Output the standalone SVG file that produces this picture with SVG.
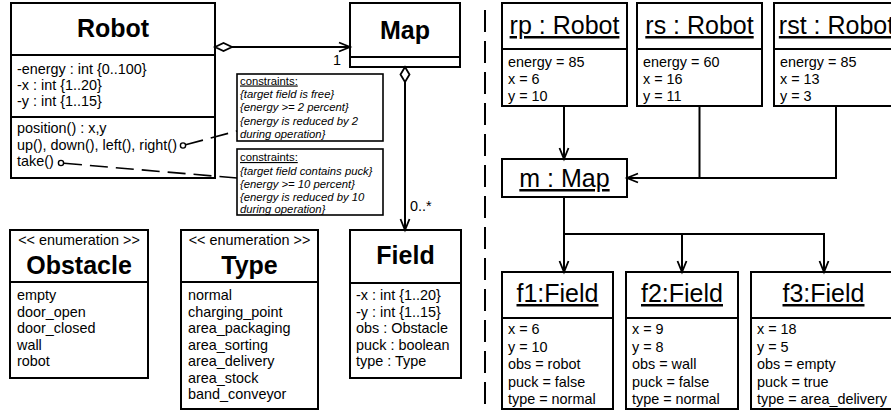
<svg xmlns="http://www.w3.org/2000/svg" width="891" height="413" viewBox="0 0 891 413">
  <defs>
    <style>
      .box { fill: #fff; stroke: #000; stroke-width: 2; }
      .sep { stroke: #000; stroke-width: 2; }
      .note { fill: #fff; stroke: #000; stroke-width: 1.6; }
      .t { font-family: "Liberation Sans", Arial, sans-serif; font-size: 14.4px; fill: #000; }
      .title { font-family: "Liberation Sans", Arial, sans-serif; font-size: 25px; font-weight: bold; text-anchor: middle; fill: #000; }
      .otitle { font-family: "Liberation Sans", Arial, sans-serif; font-size: 25px; text-anchor: middle; text-decoration: underline; fill: #000; }
      .stereo { text-anchor: middle; }
      .nt { font-family: "Liberation Sans", Arial, sans-serif; font-size: 11.3px; font-style: italic; fill: #000; }
      .nh { font-family: "Liberation Sans", Arial, sans-serif; font-size: 11.3px; text-decoration: underline; fill: #000; }
      .line { fill: none; stroke: #000; stroke-width: 2; }
      .dash { fill: none; stroke: #000; stroke-width: 1.6; stroke-dasharray: 18 8; }
      .diamond { fill: #fff; stroke: #000; stroke-width: 1.8; }
      .port { fill: #fff; stroke: #000; stroke-width: 1.4; }
      .divider { fill: none; stroke: #000; stroke-width: 2; stroke-dasharray: 22 9; }
    </style>
    <marker id="open" markerWidth="14" markerHeight="12" refX="11" refY="5" orient="auto" markerUnits="userSpaceOnUse" overflow="visible">
      <path d="M0,0.5 L11,5 L0,9.5" fill="none" stroke="#000" stroke-width="1.8"/>
    </marker>
  </defs>

  <!-- ===== class diagram ===== -->
  <g id="Robot">
    <rect class="box" x="11" y="3" width="204" height="175"/>
    <line class="sep" x1="11" y1="55" x2="215" y2="55"/>
    <line class="sep" x1="11" y1="117" x2="215" y2="117"/>
    <text class="title" x="113" y="37">Robot</text>
    <text class="t" x="17" y="74">-energy : int {0..100}</text>
    <text class="t" x="17" y="90">-x : int {1..20}</text>
    <text class="t" x="17" y="106">-y : int {1..15}</text>
    <text class="t" x="17" y="133">position() : x,y</text>
    <text class="t" x="17" y="149.5">up(), down(), left(), right()</text>
    <text class="t" x="17" y="166">take()</text>
    <circle class="port" cx="183" cy="145.5" r="2.6"/>
    <circle class="port" cx="61" cy="163" r="2.6"/>
  </g>

  <g id="Map">
    <rect class="box" x="350" y="3" width="110" height="64"/>
    <line class="sep" x1="350" y1="57" x2="460" y2="57"/>
    <text class="title" x="405" y="39">Map</text>
  </g>

  <g id="Field">
    <rect class="box" x="350" y="230" width="111" height="148"/>
    <line class="sep" x1="350" y1="283" x2="461" y2="283"/>
    <text class="title" x="405.5" y="264">Field</text>
    <text class="t" x="356" y="300">-x : int {1..20}</text>
    <text class="t" x="356" y="316.5">-y : int {1..15}</text>
    <text class="t" x="356" y="333">obs : Obstacle</text>
    <text class="t" x="356" y="349.5">puck : boolean</text>
    <text class="t" x="356" y="366">type : Type</text>
  </g>

  <g id="Obstacle">
    <rect class="box" x="10" y="230" width="138" height="148"/>
    <line class="sep" x1="10" y1="282" x2="148" y2="282"/>
    <text class="t stereo" x="79" y="245">&lt;&lt; enumeration &gt;&gt;</text>
    <text class="title" x="79" y="274">Obstacle</text>
    <text class="t" x="17" y="300">empty</text>
    <text class="t" x="17" y="316.5">door_open</text>
    <text class="t" x="17" y="333">door_closed</text>
    <text class="t" x="17" y="349.5">wall</text>
    <text class="t" x="17" y="366">robot</text>
  </g>

  <g id="Type">
    <rect class="box" x="181" y="230" width="137" height="179"/>
    <line class="sep" x1="181" y1="282" x2="318" y2="282"/>
    <text class="t stereo" x="249.5" y="245">&lt;&lt; enumeration &gt;&gt;</text>
    <text class="title" x="249.5" y="274">Type</text>
    <text class="t" x="188" y="300">normal</text>
    <text class="t" x="188" y="316.5">charging_point</text>
    <text class="t" x="188" y="333">area_packaging</text>
    <text class="t" x="188" y="349.5">area_sorting</text>
    <text class="t" x="188" y="366">area_delivery</text>
    <text class="t" x="188" y="382.5">area_stock</text>
    <text class="t" x="188" y="399">band_conveyor</text>
  </g>

  <g id="note-move">
    <rect class="note" x="237" y="74" width="146" height="67"/>
    <text class="nh" x="240" y="84.5">constraints:</text>
    <text class="nt" x="240" y="98">{target field is free}</text>
    <text class="nt" x="240" y="111">{energy &gt;= 2 percent}</text>
    <text class="nt" x="240" y="124.5">{energy is reduced by 2</text>
    <text class="nt" x="240" y="137.5">during operation}</text>
  </g>

  <g id="note-take">
    <rect class="note" x="237" y="149" width="146" height="66"/>
    <text class="nh" x="240" y="161">constraints:</text>
    <text class="nt" x="240" y="174.5">{target field contains puck}</text>
    <text class="nt" x="240" y="187.5">{energy &gt;= 10 percent}</text>
    <text class="nt" x="240" y="200.5">{energy is reduced by 10</text>
    <text class="nt" x="240" y="213">during operation}</text>
  </g>

  <g id="class-connectors">
    <!-- Robot aggregates Map -->
    <polygon class="diamond" points="215,47 223.5,43 232,47 223.5,51"/>
    <line class="line" x1="232" y1="47" x2="350" y2="47" marker-end="url(#open)"/>
    <text class="t" x="333" y="65">1</text>
    <!-- Map aggregates Field -->
    <polygon class="diamond" points="405,67 409.5,74.5 405,82 400.5,74.5"/>
    <line class="line" x1="405" y1="82" x2="405" y2="230" marker-end="url(#open)"/>
    <text class="t" x="410" y="211">0..*</text>
    <!-- constraint attachments -->
    <line class="dash" x1="185.6" y1="144.8" x2="237" y2="131"/>
    <line class="dash" x1="64" y1="163.3" x2="237" y2="178"/>
  </g>

  <!-- separator between class and object view -->
  <line class="divider" x1="485" y1="10" x2="485" y2="410"/>

  <!-- ===== object diagram ===== -->
  <g id="rp">
    <rect class="box" x="502" y="3" width="125" height="103"/>
    <line class="sep" x1="502" y1="49" x2="627" y2="49"/>
    <text class="otitle" x="564.5" y="34">rp : Robot</text>
    <text class="t" x="508" y="67">energy = 85</text>
    <text class="t" x="508" y="84">x = 6</text>
    <text class="t" x="508" y="101">y = 10</text>
  </g>

  <g id="rs">
    <rect class="box" x="637" y="3" width="125" height="103"/>
    <line class="sep" x1="637" y1="49" x2="762" y2="49"/>
    <text class="otitle" x="699.5" y="34">rs : Robot</text>
    <text class="t" x="643" y="67">energy = 60</text>
    <text class="t" x="643" y="84">x = 16</text>
    <text class="t" x="643" y="101">y = 11</text>
  </g>

  <g id="rst">
    <rect class="box" x="774" y="3" width="125" height="103"/>
    <line class="sep" x1="774" y1="49" x2="899" y2="49"/>
    <text class="otitle" x="836.5" y="34">rst : Robot</text>
    <text class="t" x="780" y="67">energy = 85</text>
    <text class="t" x="780" y="84">x = 13</text>
    <text class="t" x="780" y="101">y = 3</text>
  </g>

  <g id="m">
    <rect class="box" x="502" y="159" width="125" height="38"/>
    <text class="otitle" x="564.5" y="187">m : Map</text>
  </g>

  <g id="f1">
    <rect class="box" x="502" y="272" width="111" height="137"/>
    <line class="sep" x1="502" y1="318" x2="613" y2="318"/>
    <text class="otitle" x="557.5" y="302">f1:Field</text>
    <text class="t" x="508" y="334">x = 6</text>
    <text class="t" x="508" y="351.5">y = 10</text>
    <text class="t" x="508" y="369">obs = robot</text>
    <text class="t" x="508" y="386.5">puck = false</text>
    <text class="t" x="508" y="404">type = normal</text>
  </g>

  <g id="f2">
    <rect class="box" x="626" y="272" width="112" height="137"/>
    <line class="sep" x1="626" y1="318" x2="738" y2="318"/>
    <text class="otitle" x="682" y="302">f2:Field</text>
    <text class="t" x="632" y="334">x = 9</text>
    <text class="t" x="632" y="351.5">y = 8</text>
    <text class="t" x="632" y="369">obs = wall</text>
    <text class="t" x="632" y="386.5">puck = false</text>
    <text class="t" x="632" y="404">type = normal</text>
  </g>

  <g id="f3">
    <rect class="box" x="751" y="272" width="145" height="137"/>
    <line class="sep" x1="751" y1="318" x2="896" y2="318"/>
    <text class="otitle" x="823.5" y="302">f3:Field</text>
    <text class="t" x="757" y="334">x = 18</text>
    <text class="t" x="757" y="351.5">y = 5</text>
    <text class="t" x="757" y="369">obs = empty</text>
    <text class="t" x="757" y="386.5">puck = true</text>
    <text class="t" x="757" y="404">type = area_delivery</text>
  </g>

  <g id="object-connectors">
    <path class="line" d="M564,106 V159" marker-end="url(#open)"/>
    <path class="line" d="M699.5,106 V178"/>
    <path class="line" d="M836,106 V178 H627" marker-end="url(#open)"/>
    <path class="line" d="M564,197 V272" marker-end="url(#open)"/>
    <path class="line" d="M564,234 H824 V272" marker-end="url(#open)"/>
    <path class="line" d="M682,234 V272" marker-end="url(#open)"/>
  </g>
</svg>
